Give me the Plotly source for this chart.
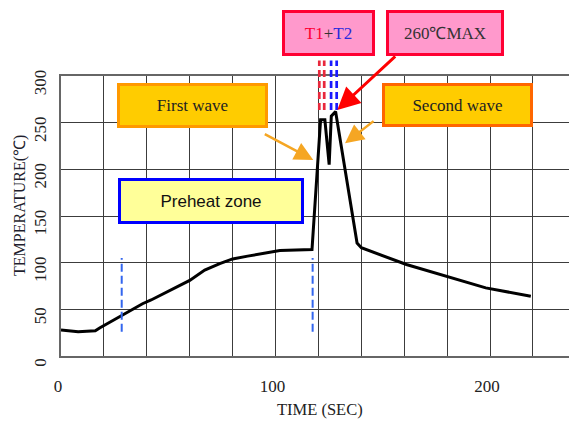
import plotly.graph_objects as go

# ---- data ----
time_s = [0, 8, 16, 18, 38, 42, 60, 67, 74, 80, 87, 102, 117, 121, 123, 125, 126, 128, 138, 140, 161, 180, 198, 219]
temp_c = [28, 26, 27, 30, 56, 60, 81, 92, 99, 104, 107, 113, 114, 253, 253, 205, 257, 262, 121, 116, 98, 85, 73, 64]

x_tick_vals = [0, 100, 200]
x_tick_text = ["0", "100", "200"]
y_tick_vals = [0, 50, 100, 150, 200, 250, 300]
y_tick_text = ["0", "50", "100", "150", "200", "250", "300"]

preheat_marks = [28.3, 117.3]          # blue dashed markers (sec)
t1_marks = [120.4, 122.7]              # red dashed (sec)
t2_marks = [125.9, 128.5]              # blue dashed (sec)

SERIF = "Liberation Serif"
SANS = "Liberation Sans"
GRID = "#3c3c3c"

fig = go.Figure()
fig.add_trace(go.Scatter(x=time_s, y=temp_c, mode="lines",
                         line=dict(color="black", width=3), hoverinfo="skip",
                         showlegend=False))

shapes = []
for xv in preheat_marks:
    shapes.append(dict(type="line", xref="x", yref="y", x0=xv, x1=xv, y0=26, y1=105,
                       line=dict(color="#3366EE", width=2, dash="8px,4px")))
for xv in t1_marks:
    shapes.append(dict(type="line", xref="x", yref="y domain", x0=xv, x1=xv, y0=0.879, y1=1.055,
                       line=dict(color="#E8283C", width=2.7, dash="7px,4px")))
for xv in t2_marks:
    shapes.append(dict(type="line", xref="x", yref="y domain", x0=xv, x1=xv, y0=0.879, y1=1.055,
                       line=dict(color="#1A1AFF", width=2.7, dash="7px,4px")))

annotations = []
# boxes
def box(x, y, w, h, text, bg, border, font, yref="y"):
    annotations.append(dict(xref="x", yref=yref, x=x, y=y, text=text, showarrow=False,
                            xanchor="center", yanchor="middle",
                            width=w - 3, height=h - 3, bgcolor=bg, bordercolor=border,
                            borderwidth=3, borderpad=0, font=font, align="center",
                            valign="middle"))

box(61.1, 267.9, 148, 42, "First wave", "#FFCC00", "#FF9900",
    dict(family=SERIF, size=17, color="#222"))
box(184.6, 268.4, 148, 41, "Second wave", "#FFCC00", "#FF6600",
    dict(family=SERIF, size=17, color="#222"))
box(69.7, 166.6, 183, 43, "Preheat zone", "#FFFF99", "#0000FF",
    dict(family=SANS, size=17, color="#111"))
box(124.5, 1.155, 90, 43,
    "<span style='color:#FF0033'>T1</span><span style='color:#333'>+</span>"
    "<span style='color:#2A2ADD'>T2</span>",
    "#FF99CC", "#FF0033", dict(family=SERIF, size=17, color="#333"), yref="paper")
box(178.8, 1.155, 115, 43, "260℃MAX", "#FF99CC", "#FF0033",
    dict(family=SERIF, size=17, color="#333"), yref="paper")

# arrows
def arrow(x, y, ax, ay, color, width, size):
    annotations.append(dict(xref="x", yref="y", axref="x", ayref="y", x=x, y=y, ax=ax, ay=ay,
                            text="", showarrow=True, arrowhead=2, arrowsize=size,
                            arrowwidth=width, arrowcolor=color, standoff=0, startstandoff=0))

arrow(128.8, 263.6, 156.5, 322.5, "#FF0000", 3, 1.5)
arrow(117.6, 210.0, 94.3, 238.6, "#F5A623", 2.5, 1.5)
arrow(132.4, 227.9, 146.4, 252.9, "#F5A623", 2.5, 1.5)

# axis titles
annotations.append(dict(xref="paper", yref="paper", x=-0.0807, y=0.536, text="TEMPERATURE(℃)",
                        textangle=-90, showarrow=False, xanchor="center", yanchor="middle",
                        font=dict(family=SERIF, size=16, color="#1f1f2f")))
annotations.append(dict(xref="paper", yref="paper", x=0.51, y=-0.19, text="TIME (SEC)",
                        showarrow=False, xanchor="center", yanchor="middle",
                        font=dict(family=SERIF, size=16.5, color="#222")))

fig.update_layout(
    width=569, height=425,
    margin=dict(l=61, r=0, t=76, b=69, autoexpand=False),
    paper_bgcolor="white", plot_bgcolor="white",
    shapes=shapes, annotations=annotations,
    showlegend=False,
    xaxis=dict(range=[0, 236.8], tickmode="array", tickvals=x_tick_vals, ticktext=x_tick_text,
               automargin=False,
               showgrid=True, gridcolor=GRID, gridwidth=1.3, zeroline=False,
               minor=dict(tick0=0, dtick=20, showgrid=True, gridcolor=GRID, gridwidth=1.3, ticks=""),
               showline=True, linecolor="#666", linewidth=1.5, mirror=True, ticks="",
               ticklabelstandoff=14, ticklabelshift=-3,
               tickfont=dict(family=SERIF, size=17, color="#222")),
    yaxis=dict(range=[0, 300], tickmode="array", tickvals=y_tick_vals, ticktext=y_tick_text,
               automargin=False,
               tickangle=-90, showgrid=True, gridcolor=GRID, gridwidth=1.3, zeroline=False,
               showline=True, linecolor="#666", linewidth=1.5, ticks="",
               ticklabelstandoff=6, ticklabelshift=9,
               tickfont=dict(family=SERIF, size=17, color="#222")),
)

fig.write_html("out.html", config={"displayModeBar": False},
               post_script="document.body.style.margin='0';"
                           "document.body.style.overflow='hidden';"
                           "document.documentElement.style.overflow='hidden';")
